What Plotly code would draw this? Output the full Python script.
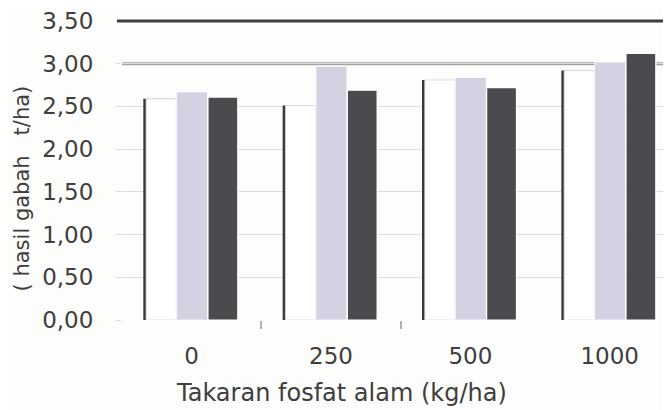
import plotly.graph_objects as go

categories = ["0", "250", "500", "1000"]
white_vals = [2.59, 2.51, 2.81, 2.92]
lav_vals = [2.67, 2.97, 2.84, 3.02]
dark_vals = [2.61, 2.69, 2.72, 3.12]
y_ticks = [0, 0.5, 1.0, 1.5, 2.0, 2.5, 3.0, 3.5]
sep_ticks = [0.5, 1.5]
ref_line = 3.0
top_line = 3.5

xs = list(range(len(categories)))
font_main = "DejaVu Sans, Liberation Sans, sans-serif"
txt = "#3e3e3e"
xrange_ = [-0.5, 3.44]
yrange_ = [0, 3.5]

# page body has an 8px margin: compensate so the plot lands where the reference has it
L, T, B = 114, 11, 90
W, H = 663, 402
pw = W - L
ph = H - T - B

fig = go.Figure()
# shadow (dark left edge) of white bars
fig.add_trace(go.Bar(x=xs, y=white_vals, offset=-0.347, width=0.22,
                     marker=dict(color="#363a40", line=dict(width=0))))
fig.add_trace(go.Bar(x=xs, y=white_vals, offset=-0.327, width=0.217,
                     marker=dict(color="#ffffff", line=dict(color="#d8d8d8", width=0.8))))
fig.add_trace(go.Bar(x=xs, y=lav_vals, offset=-0.108, width=0.222,
                     marker=dict(color="#d2d2e2", line=dict(color="#ffffff", width=0.8))))
fig.add_trace(go.Bar(x=xs, y=dark_vals, offset=0.117, width=0.214,
                     marker=dict(color="#4c494f", line=dict(color="#ffffff", width=1.2))))

top_p = (top_line - yrange_[0]) / (yrange_[1] - yrange_[0])
shapes = [
    dict(type="line", xref="paper", yref="y", x0=0, x1=1.0,
         y0=ref_line, y1=ref_line, line=dict(color="#a2a2a2", width=3), layer="between"),
    dict(type="line", xref="paper", yref="paper", x0=-5 / pw, x1=1.0,
         y0=top_p, y1=top_p, line=dict(color="#3c3f44", width=3), layer="above"),
]

fig.update_layout(
    width=W, height=H,
    margin=dict(l=L, r=0, t=T, b=B),
    paper_bgcolor="#fdfdfb", plot_bgcolor="#fdfdfb",
    barmode="overlay", showlegend=False,
    separators=",.",
    font=dict(family=font_main, color=txt, size=23),
    shapes=shapes,
    xaxis=dict(range=xrange_, tickmode="array", tickvals=xs, ticktext=categories,
               ticks="", showgrid=False, showline=False, zeroline=False,
               tickfont=dict(size=23, color=txt), ticklabelstandoff=20),
    xaxis2=dict(range=xrange_, overlaying="x", side="bottom", tickmode="array",
                tickvals=sep_ticks, showticklabels=False, ticks="outside", ticklen=8,
                tickwidth=2, tickcolor="#b0b0b0", showgrid=False, showline=False,
                zeroline=False),
    yaxis=dict(range=yrange_, tickvals=y_ticks, tickformat=".2f",
               showgrid=True, gridcolor="#dcdcdc", gridwidth=1,
               ticks="outside", ticklen=5, tickcolor="#dcdcdc",
               showline=False, zeroline=False, ticklabeloverflow="allow",
               tickfont=dict(size=23, color=txt), ticklabelstandoff=18),
    annotations=[
        dict(text="( hasil gabah   t/ha)", xref="paper", yref="paper",
             x=-L / pw, y=0.44, textangle=-90, showarrow=False,
             xanchor="left", yanchor="middle", font=dict(size=21, color=txt)),
        dict(text="Takaran fosfat alam (kg/ha)", xref="paper", yref="paper",
             x=(333 - L) / pw, y=-(385 - (T + ph)) / ph, showarrow=False,
             xanchor="center", yanchor="middle", font=dict(size=24, color=txt)),
    ],
)
# invisible helper trace so the separator-tick axis is drawn
fig.add_trace(go.Scatter(x=[xrange_[0]], y=[0], xaxis="x2", mode="markers",
                         marker=dict(opacity=0), hoverinfo="skip"))

fig.write_html("out.html")
